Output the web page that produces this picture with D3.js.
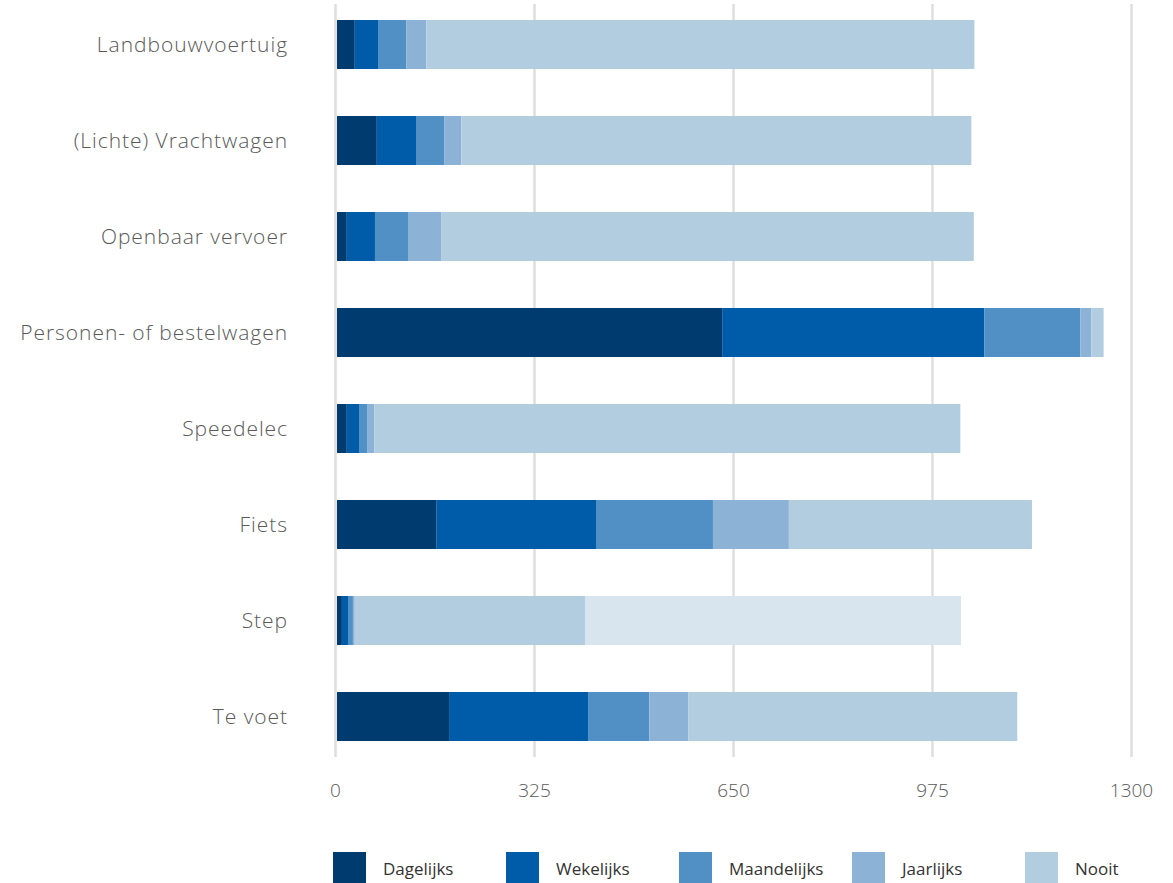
<!DOCTYPE html>
<html>
<head>
<meta charset="utf-8">
<script src="https://cdn.jsdelivr.net/npm/d3@7"></script>
<style>
  html, body { margin: 0; padding: 0; background: #fff; }
  svg { display: block; }
  text { font-family: "Open Sans", "Noto Sans", sans-serif; }
</style>
</head>
<body>
<svg id="chart" width="1173" height="883"></svg>
<script>
const categories = ["Landbouwvoertuig", "(Lichte) Vrachtwagen", "Openbaar vervoer", "Personen- of bestelwagen", "Speedelec", "Fiets", "Step", "Te voet"];
const seriesNames = ["Dagelijks", "Wekelijks", "Maandelijks", "Jaarlijks", "Nooit", "Onbekend"];
const legendNames = ["Dagelijks", "Wekelijks", "Maandelijks", "Jaarlijks", "Nooit"];
const dagelijks   = [29, 65, 16, 629, 16, 162, 8, 183];
const wekelijks   = [38, 64, 46, 428, 21, 261, 10, 227];
const maandelijks = [46, 46, 54, 157, 13, 191, 8, 100];
const jaarlijks   = [33, 28, 54, 18, 11, 124, 3, 64];
const nooit       = [895, 833, 870, 20, 957, 397, 376, 537];
const onbekend    = [0, 0, 0, 0, 0, 0, 614, 0];
const xTicks = [0, 325, 650, 975, 1300];
const colors = ["#003b70", "#005ca8", "#5090c5", "#8cb2d6", "#b3cde0", "#d8e4ee"];

const seriesValues = [dagelijks, wekelijks, maandelijks, jaarlijks, nooit, onbekend];
const rows = categories.map((c, i) => {
  const r = { cat: c };
  seriesNames.forEach((s, j) => r[s] = seriesValues[j][i]);
  return r;
});

const svg = d3.select("#chart");
const x = d3.scaleLinear().domain([0, 1300]).range([336, 1132]);
const y = d3.scaleBand().domain(categories).range([-27, 788]).padding(47 / 96);
const color = d3.scaleOrdinal().domain(seriesNames).range(colors);

// gridlines
svg.append("g").selectAll("line").data(xTicks).join("line")
  .attr("x1", d => x(d) - 0.5).attr("x2", d => x(d) - 0.5)
  .attr("y1", 4).attr("y2", 757)
  .attr("stroke", "#dedede").attr("stroke-width", 2.5);

// stacked bars
const stack = d3.stack().keys(seriesNames)(rows);
svg.append("g").selectAll("g").data(stack).join("g")
  .attr("fill", d => color(d.key))
  .selectAll("rect").data(d => d).join("rect")
  .attr("x", d => x(d[0]) + 1)
  .attr("y", d => y(d.data.cat))
  .attr("width", d => Math.max(0, x(d[1]) - x(d[0])))
  .attr("height", y.bandwidth());

// category labels
svg.append("g").selectAll("text").data(categories).join("text")
  .attr("x", 288)
  .attr("y", d => y(d) + y.bandwidth() / 2)
  .attr("dy", "0.35em")
  .attr("text-anchor", "end")
  .attr("font-size", 21)
  .attr("font-weight", 300)
  .attr("letter-spacing", "0.95px")
  .attr("fill", "#595959")
  .text(d => d);

// x tick labels
svg.append("g").selectAll("text").data(xTicks).join("text")
  .attr("x", d => x(d) - 0.5)
  .attr("y", 797)
  .attr("text-anchor", "middle")
  .attr("font-size", 19)
  .attr("font-weight", 300)
  .attr("fill", "#595959")
  .text(d => d);

// legend
const lg = svg.append("g").selectAll("g").data(legendNames).join("g")
  .attr("transform", (d, i) => `translate(${333 + i * 173},852)`);
lg.append("rect").attr("width", 33).attr("height", 32).attr("fill", d => color(d));
lg.append("text").attr("x", 50).attr("y", 23)
  .attr("font-size", 17).attr("fill", "#333").text(d => d);
</script>
</body>
</html>
